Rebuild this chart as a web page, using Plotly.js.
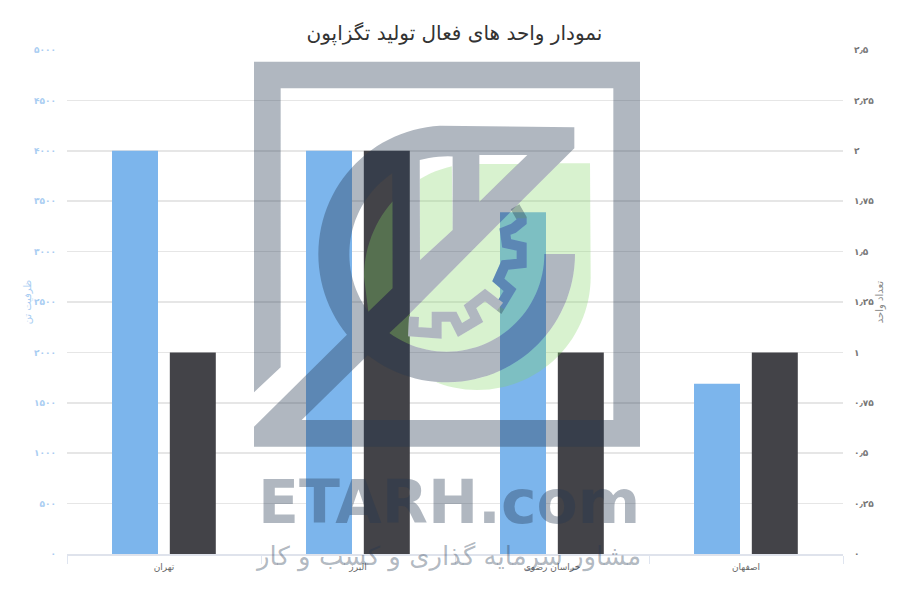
<!DOCTYPE html>
<html><head><meta charset="utf-8">
<script src="https://cdn.plot.ly/plotly-3.0.1.min.js"></script>
<style>html,body{margin:0;padding:0;background:#fff}</style></head>
<body><div id="chart" style="width:900px;height:600px"></div>
<script>
const categories = ['تهران','البرز','خراسان رضوی','اصفهان'];
const capacity = [4000,4000,3390,1690];
const units = [1,2,1,1];
const capacityTicks = [0,500,1000,1500,2000,2500,3000,3500,4000,4500,5000];
const capacityLabels = ['۰','۵۰۰','۱۰۰۰','۱۵۰۰','۲۰۰۰','۲۵۰۰','۳۰۰۰','۳۵۰۰','۴۰۰۰','۴۵۰۰','۵۰۰۰'];
const unitTicks = [0,0.25,0.5,0.75,1,1.25,1.5,1.75,2,2.25,2.5];
const unitLabels = ['۰','۰٫۲۵','۰٫۵','۰٫۷۵','۱','۱٫۲۵','۱٫۵','۱٫۷۵','۲','۲٫۲۵','۲٫۵'];

const titleText = 'نمودار واحد های فعال تولید تگزاپون';
const leftTitle = 'ظرفیت تن';
const rightTitle = 'تعداد واحد';
const wmName = 'ETARH.com';
const wmTagline = 'مشاور سرمایه گذاری و کسب و کار';

// watermark geometry (logo drawn in its own coordinate frame)
const L=67,R=843,T=50,B=554;
const pt=(zx,zy)=>{const x=240+zx/3,y=50+zy/3;return [((x-L)/(R-L)).toFixed(5),((B-y)/(B-T)).toFixed(5)];};
const arc=(cx,cy,r,a0,a1)=>{const o=[],n=Math.max(6,Math.ceil(Math.abs(a1-a0)/3));
  for(let i=0;i<=n;i++){const a=(a0+(a1-a0)*i/n)*Math.PI/180;o.push([cx+r*Math.cos(a),cy+r*Math.sin(a)]);}return o;};
const sub=p=>'M'+p.map(q=>pt(q[0],q[1]).join(' ')).join(' L')+' Z';
const ring=(a0,a1,r)=>arc(620,612,r,a0,a1);
const body=[[42,1130],[320,855],...ring(141,267,385),[1003,232],[1003,295],[835,462],[500,800],[447,850],
  ...ring(126,0,293),[1003,612],...ring(0,128,385),[185,1110],[1120,1110],[1120,115],[122,115],[122,952],[42,1027],
  [42,35],[1200,35],[1200,1190],[42,1190]];
const winLeft=[...ring(143.6,236,292),[458,715]];
const winMid=[[540,630],...ring(254,273.5,293),[638,540]];
const winRight=[[718,315],[862,315],[718,455]];
const gray='M'+[body,winLeft,winMid,winRight].map(p=>p.map(q=>pt(q[0],q[1]).join(' ')).join(' L')).join(' Z M')+' Z';
const gc=(a0,a1)=>arc(712,680,340,a0,a1);
const greenRight=[[958,340],[1050,340],...gc(0,111),...ring(94.5,0,385),[920,612],...ring(0,126,293),[500,800],[835,462]];
const greenLeft=[...gc(221.7,180),[385,785],[458,715]];
const greenMid=[[540,630],...gc(239.6,257),[638,540]];
const greenTop=[[718,342],[835,342],[718,455]];
const green=[greenRight,greenLeft,greenMid,greenTop].map(sub).join(' ');
const gearA=[[845,505],[845,515],[820,535],[795,545],[800,580],[845,590],[845,640],[795,645],[775,690],[810,720],[780,770]];
const gearB=[[780,770],[735,735],[690,770],[710,810],[660,840],[640,800],[590,800],[590,850],[520,845],[522,800]];
const gearTop=[[825,470],[845,505]];
const pathOf=a=>'M'+a.map(q=>pt(q[0],q[1]).join(' ')).join(' L');
const gear=pathOf([...gearTop,...gearA.slice(1),...gearB.slice(1)]);
const wmColor='rgba(36,55,80,0.36)';

const traces=[
 {type:'bar',x:categories,y:capacity,yaxis:'y',width:0.237,offset:-0.268,marker:{color:'#7cb5ec'},hoverinfo:'x+y'},
 {type:'bar',x:categories,y:units,yaxis:'y2',width:0.237,offset:0.03,marker:{color:'#434348'},hoverinfo:'x+y'}
];
const layout={
 width:900,height:600,showlegend:false,paper_bgcolor:'#fff',plot_bgcolor:'#fff',
 margin:{l:L,r:900-R,t:T,b:600-B,pad:0},
 font:{family:'"DejaVu Sans",sans-serif'},
 title:{text:titleText,x:0.505,xanchor:'center',y:0.945,yanchor:'middle',font:{size:20,color:'#333333'}},
 xaxis:{type:'category',tickson:'boundaries',ticks:'outside',ticklen:8,tickcolor:'#dfe5f0',tickwidth:1,ticklabelstandoff:3,
   showline:true,linecolor:'#dfe3ec',linewidth:2,showgrid:false,tickfont:{size:9,color:'#666666'},automargin:false,range:[-0.5,3.5]},
 yaxis:{range:[0,5000],tickvals:capacityTicks,ticktext:capacityLabels,gridcolor:'#e6e6e6',gridwidth:1.5,zeroline:false,
   tickfont:{size:9,color:'#a9cdf2',weight:700},ticks:'',automargin:false,ticklabelstandoff:10,
   title:{text:leftTitle,font:{size:10,color:'#a9cdf2'},standoff:0}},
 yaxis2:{range:[0,2.5],overlaying:'y',side:'right',tickvals:unitTicks,ticktext:unitLabels,showgrid:false,zeroline:false,
   tickfont:{size:9,color:'#777777',weight:700},ticks:'',automargin:false,ticklabelstandoff:10,
   title:{text:rightTitle,font:{size:10,color:'#888888'},standoff:0}},
 shapes:[
  {type:'path',xref:'paper',yref:'paper',path:green,fillcolor:'rgba(130,213,100,0.31)',line:{width:0},layer:'above'},
  {type:'path',xref:'paper',yref:'paper',path:pathOf(gearA),fillcolor:'rgba(0,0,0,0)',line:{width:10,color:'#7cb5ec'},layer:'above'},
  {type:'path',xref:'paper',yref:'paper',path:pathOf(gearB),fillcolor:'rgba(0,0,0,0)',line:{width:10,color:'#ffffff'},layer:'above'},
  {type:'path',xref:'paper',yref:'paper',path:gray,fillcolor:wmColor,line:{width:0},layer:'above'},
  {type:'path',xref:'paper',yref:'paper',path:gear,fillcolor:'rgba(0,0,0,0)',line:{width:10,color:wmColor},layer:'above'}
 ],
 annotations:[
  {xref:'paper',yref:'paper',x:(449-L)/(R-L),y:(B-502)/(B-T),text:wmName,showarrow:false,xanchor:'center',yanchor:'middle',
   font:{family:'"DejaVu Sans",sans-serif',size:60,color:wmColor,weight:700}},
  {xref:'paper',yref:'paper',x:(448-L)/(R-L),y:(B-556)/(B-T),text:wmTagline,showarrow:false,xanchor:'center',yanchor:'middle',
   font:{family:'"DejaVu Sans",sans-serif',size:26,color:wmColor}}
 ]
};
Plotly.newPlot('chart',traces,layout,{displayModeBar:false,staticPlot:true});
</script></body></html>
